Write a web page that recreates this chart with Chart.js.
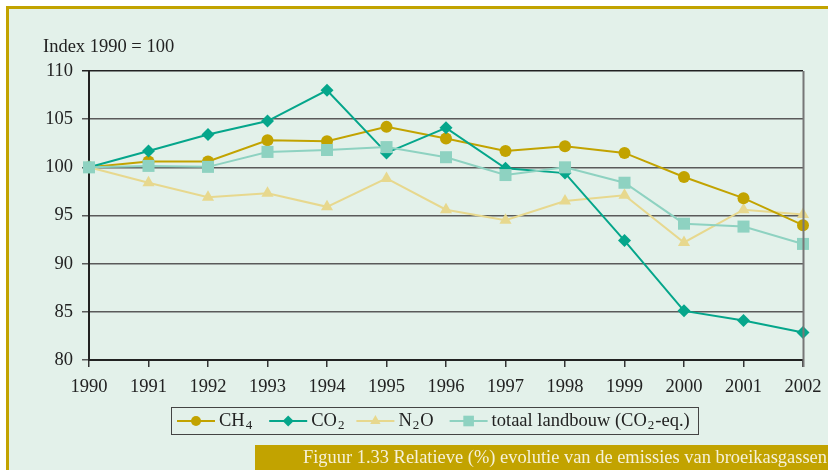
<!DOCTYPE html>
<html>
<head>
<meta charset="utf-8">
<script src="https://cdn.jsdelivr.net/npm/chart.js@4/dist/chart.umd.min.js"></script>
<style>
  html, body { margin: 0; padding: 0; background: #ffffff; }
  #wrap { width: 828px; height: 470px; position: relative; }
</style>
</head>
<body>
<div id="wrap"><canvas id="c" width="828" height="470"></canvas></div>
<script>
// Years on the horizontal axis
const years = ['1990','1991','1992','1993','1994','1995','1996','1997','1998','1999','2000','2001','2002'];

// Emission index per gas (1990 = 100)
const ch4    = [100, 100.6, 100.6, 102.8, 102.7, 104.2, 103.0, 101.7, 102.2, 101.5, 99.0, 96.8, 94.0];
const co2    = [100, 101.7, 103.4, 104.8, 108.0, 101.5, 104.1, 99.9, 99.4, 92.4, 85.1, 84.1, 82.85];
const n2o    = [100, 98.4, 96.9, 97.3, 95.9, 98.85, 95.6, 94.5, 96.5, 97.1, 92.2, 95.6, 95.1];
const totaal = [100, 100.15, 100.05, 101.6, 101.8, 102.1, 101.05, 99.2, 100.0, 98.4, 94.15, 93.85, 92.05];

const seriesNames = ['CH₄', 'CO₂', 'N₂O', 'totaal landbouw (CO₂-eq.)'];
const yTitle = 'Index 1990 = 100';
const caption = 'Figuur 1.33 Relatieve (%) evolutie van de emissies van broeikasgassen';

const GOLD = '#c2a300';
const SERIF = '"Liberation Serif", "Times New Roman", serif';
const SUBS = { '₀':'0','₁':'1','₂':'2','₃':'3','₄':'4','₅':'5','₆':'6','₇':'7','₈':'8','₉':'9' };

function ds(label, data, color, style, radius, order, width) {
  return {
    label, data, order,
    borderColor: color, backgroundColor: color,
    pointBackgroundColor: color, pointBorderColor: color,
    pointStyle: style, pointRadius: radius, pointHoverRadius: radius,
    pointBorderWidth: 0,
    borderWidth: width, tension: 0, clip: false
  };
}

// Draws a label, rendering subscript digits smaller and lowered; returns its width
function drawRich(ctx, text, x, y, size, draw) {
  let cx = x;
  for (const ch of text) {
    const sub = SUBS[ch];
    if (sub) {
      ctx.font = Math.round(size * 0.72) + 'px ' + SERIF;
      if (draw) ctx.fillText(sub, cx + 1, y + size * 0.25);
      cx += ctx.measureText(sub).width + 2;
    } else {
      ctx.font = size + 'px ' + SERIF;
      if (draw) ctx.fillText(ch, cx, y);
      cx += ctx.measureText(ch).width;
    }
  }
  return cx - x;
}

const frame = {
  id: 'frame',
  beforeDraw(chart) {
    const ctx = chart.ctx;
    ctx.save();
    ctx.fillStyle = '#ffffff';
    ctx.fillRect(0, 0, 828, 470);
    ctx.fillStyle = '#e3f1ea';
    ctx.fillRect(7, 7, 821, 463);
    ctx.fillStyle = GOLD;
    ctx.fillRect(6, 6, 822, 3);
    ctx.fillRect(6, 6, 3, 464);
    ctx.restore();
  },
  afterDraw(chart) {
    const ctx = chart.ctx;
    const a = chart.chartArea;
    ctx.save();
    // right edge of the plot
    ctx.strokeStyle = '#777';
    ctx.lineWidth = 2;
    ctx.beginPath();
    ctx.moveTo(a.right + 0.5, a.top);
    ctx.lineTo(a.right + 0.5, a.bottom + 7);
    ctx.stroke();

    // axis title
    ctx.fillStyle = '#222';
    ctx.font = '18.5px ' + SERIF;
    ctx.textBaseline = 'middle';
    ctx.textAlign = 'left';
    ctx.fillText(yTitle, 43, 47);

    // legend
    const boxL = 171, boxR = 698, boxT = 407, boxB = 434;
    ctx.strokeStyle = '#444';
    ctx.lineWidth = 1;
    ctx.strokeRect(boxL + 0.5, boxT + 0.5, boxR - boxL, boxB - boxT);
    let x = 177;
    const cy = 421;
    const gaps = [16, 11, 16, 0];
    chart.data.datasets.forEach((d, i) => {
      ctx.strokeStyle = d.borderColor;
      ctx.lineWidth = 2;
      ctx.beginPath();
      ctx.moveTo(x, cy);
      ctx.lineTo(x + 38, cy);
      ctx.stroke();
      ctx.fillStyle = d.backgroundColor;
      Chart.helpers.drawPoint(ctx, {
        pointStyle: d.pointStyle,
        radius: Math.max(4, d.pointRadius - 1),
        borderWidth: 0,
        rotation: 0
      }, x + 19, cy);
      ctx.fillStyle = '#222';
      const w = drawRich(ctx, d.label, x + 42, cy, 18.5, true);
      x += 42 + w + gaps[i];
    });

    // caption bar
    ctx.fillStyle = GOLD;
    ctx.fillRect(255, 445, 573, 25);
    ctx.fillStyle = '#f6f1d8';
    ctx.font = '18px ' + SERIF;
    ctx.textBaseline = 'middle';
    const w = ctx.measureText(caption).width;
    const target = 524;
    ctx.translate(303, 458);
    ctx.scale(target / w, 1);
    ctx.fillText(caption, 0, 0);
    ctx.restore();
  }
};

new Chart(document.getElementById('c'), {
  type: 'line',
  data: {
    labels: years,
    datasets: [
      ds(seriesNames[0], ch4, '#c2a300', 'circle', 6, 3, 2),
      ds(seriesNames[1], co2, '#05a68b', 'rectRot', 6.5, 2, 2),
      ds(seriesNames[2], n2o, '#e7d88e', 'triangle', 7, 4, 2),
      ds(seriesNames[3], totaal, '#8ed2c1', 'rect', 8.5, 1, 2)
    ]
  },
  options: {
    responsive: false,
    devicePixelRatio: 1,
    animation: false,
    events: [],
    layout: { autoPadding: false, padding: { left: 0, top: 71, right: 25, bottom: 0 } },
    plugins: { legend: { display: false }, tooltip: { enabled: false }, title: { display: false } },
    scales: {
      x: {
        afterFit(s) { s.height = 110; s.paddingLeft = 0; s.paddingRight = 0; },
        grid: { drawOnChartArea: false, drawTicks: true, tickLength: 7, color: '#333', lineWidth: 1.5 },
        border: { color: '#222', width: 2 },
        ticks: { color: '#222', font: { family: SERIF, size: 18.5 }, padding: 9, maxRotation: 0, autoSkip: false }
      },
      y: {
        min: 80, max: 110,
        afterFit(s) { s.width = 89; s.paddingTop = 0; s.paddingBottom = 0; },
        grid: {
          color: (c) => (c.tick && c.tick.value === 110 ? '#222' : '#5a5a5a'),
          lineWidth: 1.5, tickLength: 7
        },
        border: { color: '#222', width: 2 },
        ticks: { stepSize: 5, color: '#222', font: { family: SERIF, size: 18.5 }, padding: 9 }
      }
    }
  },
  plugins: [frame]
});
</script>
</body>
</html>
